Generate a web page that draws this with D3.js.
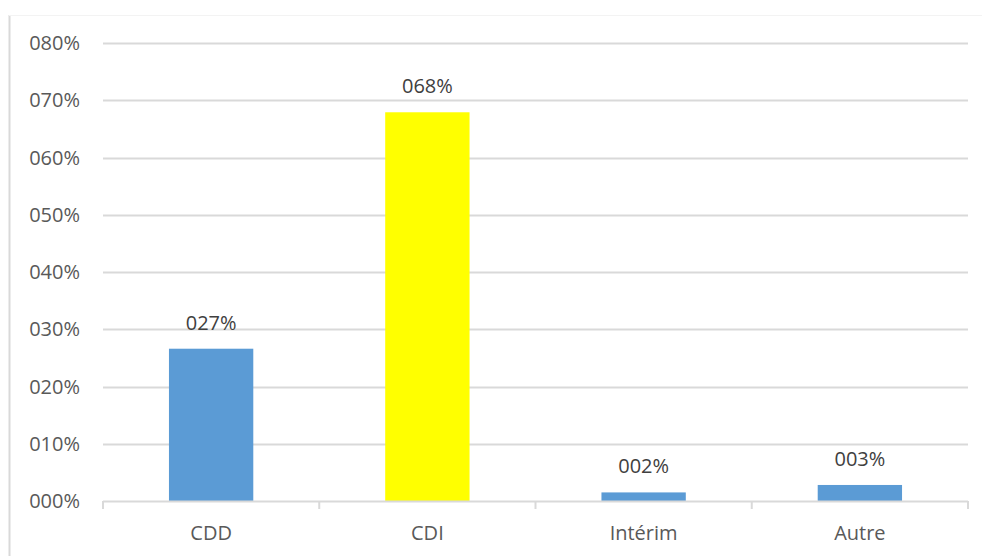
<!DOCTYPE html>
<html>
<head>
<meta charset="utf-8">
<script src="https://cdn.jsdelivr.net/npm/d3@7"></script>
<style>
  body { margin: 0; background: #fff; }
  svg text { font-family: "Open Sans", "Liberation Sans", sans-serif; }
</style>
</head>
<body>
<div class="barChart"></div>
<script>
// chart data
const categories = ["CDD", "CDI", "Intérim", "Autre"];
const values = [0.266, 0.679, 0.015, 0.028];
const barColors = ["#5b9bd5", "#ffff00", "#5b9bd5", "#5b9bd5"];
const yTicks = [0, 0.1, 0.2, 0.3, 0.4, 0.5, 0.6, 0.7, 0.8];

// excel style "000%" format
const pct = (v) => String(Math.round(v * 100)).padStart(3, "0") + "%";

const W = 982, H = 556;
const margin = { top: 43, right: 14, bottom: 55, left: 103 };
const width = W - margin.left - margin.right;
const height = H - margin.top - margin.bottom;
const fontSize = "20px";

const svg = d3.select(".barChart").append("svg")
  .attr("width", W)
  .attr("height", H);

// outer chart frame (left edge + faint top)
svg.append("line")
  .attr("x1", 9.5).attr("x2", 9.5).attr("y1", 15).attr("y2", H)
  .attr("stroke", "#d9d9d9").attr("stroke-width", 2);
svg.append("line")
  .attr("x1", 9).attr("x2", W).attr("y1", 15.5).attr("y2", 15.5)
  .attr("stroke", "#f3f3f3").attr("stroke-width", 1);

const g = svg.append("g")
  .attr("transform", `translate(${margin.left},${margin.top})`);

const x = d3.scaleBand().domain(categories).range([0, width]).padding(0);
const y = d3.scaleLinear().domain([0, 0.8]).range([height, 0]);

// gridlines
g.append("g")
  .selectAll("line")
  .data(yTicks.slice(1))
  .enter()
  .append("line")
  .attr("x1", 0).attr("x2", width)
  .attr("y1", (d) => Math.round(y(d)) + 0.5)
  .attr("y2", (d) => Math.round(y(d)) + 0.5)
  .attr("stroke", "#d9d9d9")
  .attr("stroke-width", 2);

// y axis labels
g.append("g")
  .selectAll("text")
  .data(yTicks)
  .enter()
  .append("text")
  .attr("x", -23)
  .attr("y", (d) => y(d))
  .attr("dy", "0.35em")
  .attr("text-anchor", "end")
  .attr("fill", "#595959")
  .style("font-size", fontSize)
  .text(pct);

// bars
const barW = x.bandwidth() * 0.39;
g.selectAll(".bar")
  .data(values)
  .enter()
  .append("rect")
  .attr("class", "bar")
  .attr("x", (d, i) => x(categories[i]) + (x.bandwidth() - barW) / 2)
  .attr("width", barW)
  .attr("y", (d) => y(d))
  .attr("height", (d) => y(0) - y(d))
  .attr("fill", (d, i) => barColors[i]);

// x axis line + category separators
const xAxis = g.append("g").attr("transform", `translate(0,${height})`);
xAxis.append("line")
  .attr("x1", 0).attr("x2", width).attr("y1", 0.5).attr("y2", 0.5)
  .attr("stroke", "#d9d9d9").attr("stroke-width", 2);
xAxis.selectAll(".sep")
  .data(categories.concat([null]))
  .enter()
  .append("line")
  .attr("class", "sep")
  .attr("x1", (d, i) => i * x.step())
  .attr("x2", (d, i) => i * x.step())
  .attr("y1", 0).attr("y2", 8)
  .attr("stroke", "#d9d9d9").attr("stroke-width", 2);
xAxis.selectAll(".cat")
  .data(categories)
  .enter()
  .append("text")
  .attr("class", "cat")
  .attr("x", (d) => x(d) + x.bandwidth() / 2)
  .attr("y", 39)
  .attr("text-anchor", "middle")
  .attr("fill", "#595959")
  .style("font-size", fontSize)
  .text((d) => d);

// data labels
g.selectAll(".lbl")
  .data(values)
  .enter()
  .append("text")
  .attr("class", "lbl")
  .attr("x", (d, i) => x(categories[i]) + x.bandwidth() / 2)
  .attr("y", (d) => y(d) - 19)
  .attr("text-anchor", "middle")
  .attr("fill", "#404040")
  .style("font-size", fontSize)
  .text(pct);
</script>
</body>
</html>
